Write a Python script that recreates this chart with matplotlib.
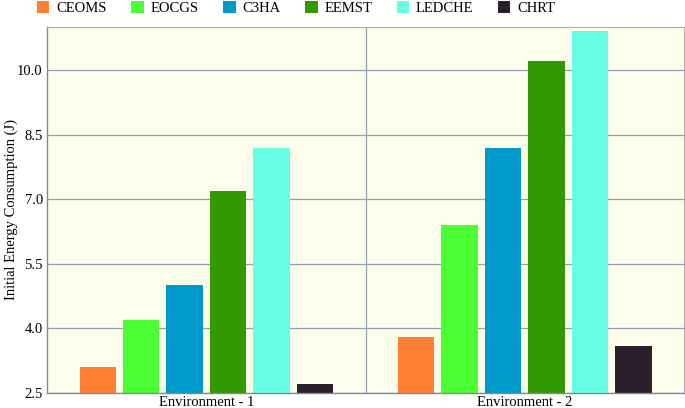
import matplotlib.pyplot as plt
import numpy as np

plt.rcParams["font.family"] = ["Liberation Serif", "DejaVu Serif"]

environments = ["Environment - 1", "Environment - 2"]
methods = ["CEOMS", "EOCGS", "C3HA", "EEMST", "LEDCHE", "CHRT"]
ceoms = [3.1, 3.8]
eocgs = [4.2, 6.4]
c3ha = [5.0, 8.2]
eemst = [7.2, 10.2]
ledche = [8.2, 10.9]
chrt = [2.7, 3.6]
colors = ["#ff7f33", "#4cff33", "#0099cc", "#339900", "#66ffe6", "#2a1f2b"]

series = [ceoms, eocgs, c3ha, eemst, ledche, chrt]

fig = plt.figure(figsize=(6.85, 4.08), dpi=100)
ax = fig.add_axes([0.0686, 0.0368, 0.93, 0.8970])
ax.set_facecolor("#fdfdeb")

x = np.arange(len(environments))
pitch = 0.1363
width = 0.1143
for i, (vals, name, c) in enumerate(zip(series, methods, colors)):
    ax.bar(x + (i - 2.5) * pitch, np.array(vals) - 2.5, width, bottom=2.5,
           color=c, label=name, zorder=3)

ax.set_xlim(-0.5, 1.5)
ax.set_ylim(2.5, 11.0)
ax.set_yticks([2.5, 4.0, 5.5, 7.0, 8.5, 10.0])
ax.set_yticklabels(["2.5", "4.0", "5.5", "7.0", "8.5", "10.0"])
ax.set_xticks(x)
ax.set_xticklabels(environments)
ax.tick_params(axis="both", length=0, labelsize=10.5, pad=2)
ax.tick_params(axis="y", pad=3)

ax.yaxis.grid(True, color="#8fa0b0", linewidth=0.9, zorder=1)
ax.axvline(0.5, color="#8fa0b0", linewidth=0.9, zorder=1)

for s in ["top", "right"]:
    ax.spines[s].set_color("#b0b0b0")
    ax.spines[s].set_linewidth(0.8)
for s in ["left", "bottom"]:
    ax.spines[s].set_color("#888888")
    ax.spines[s].set_linewidth(1.0)
ax.spines["bottom"].set_zorder(4)

ax.set_ylabel("Initial Energy Consumption (J)", fontsize=10.5)
ax.yaxis.set_label_coords(-0.045, 0.5)

fig.legend(loc="upper left", bbox_to_anchor=(0.035, 1.03), ncol=6,
           frameon=False, fontsize=10.5, handlelength=0.85, handleheight=0.85,
           handletextpad=0.45, columnspacing=1.7)

fig.savefig("out.png", dpi=100)
